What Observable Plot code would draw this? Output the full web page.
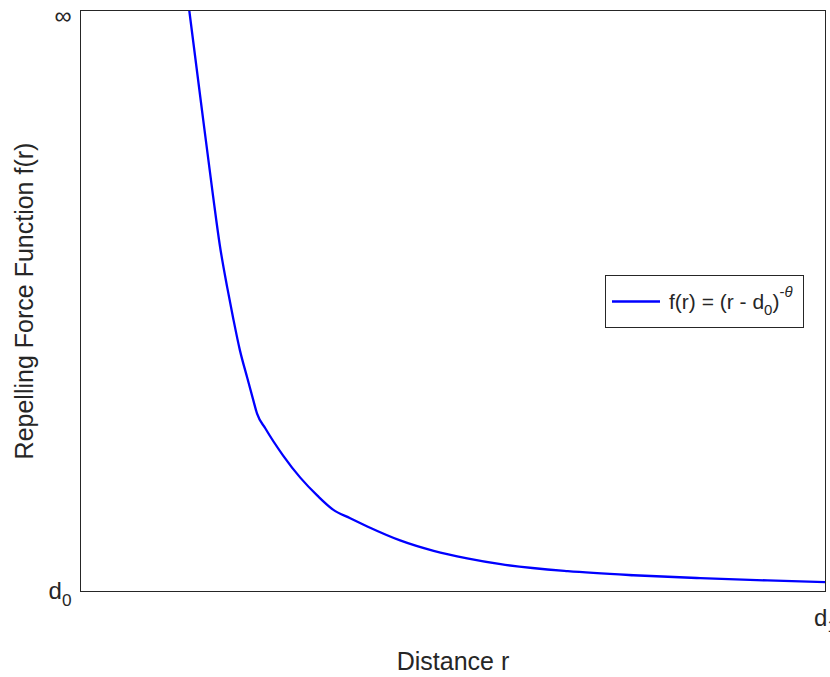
<!DOCTYPE html>
<html>
<head>
<meta charset="utf-8">
<script src="https://cdn.jsdelivr.net/npm/d3@7"></script>
<script src="https://cdn.jsdelivr.net/npm/@observablehq/plot@0.6"></script>
<style>
  html, body { margin: 0; padding: 0; background: #fff; }
  #wrap { position: relative; width: 830px; height: 677px; overflow: hidden; }
  #legend { position: absolute; left: 605px; top: 275px; }
</style>
</head>
<body>
<div id="wrap"></div>
<script>
// Normalised distance between d0 (0) and d1 (1), and the repelling force
// scaled so that the top of the axis stands for infinity.
const r = [0.146, 0.161, 0.178, 0.187, 0.197, 0.205, 0.214, 0.224, 0.232, 0.237,
           0.248, 0.272, 0.295, 0.318, 0.339, 0.362, 0.385, 0.429, 0.474, 0.519,
           0.564, 0.654, 0.742, 0.832, 0.922, 1.000];
const f = [1.000, 0.849, 0.680, 0.596, 0.523, 0.470, 0.415, 0.367, 0.329, 0.306,
           0.281, 0.234, 0.196, 0.165, 0.141, 0.126, 0.112, 0.088, 0.070, 0.057,
           0.047, 0.035, 0.028, 0.023, 0.019, 0.016];

const yTicks = [0, 1];
const yTickLabels = ["d0", "\u221e"];
const xTicks = [1];
const xTickLabels = ["d1"];

const xLabel = "Distance r";
const yLabel = "Repelling Force Function f(r)";
const lineColor = "#0000ff";
const ink = "#262626";
const font = "'Liberation Sans', Arial, Helvetica, sans-serif";

const data = r.map((v, i) => ({r: v, f: f[i]}));

const chart = Plot.plot({
  width: 830,
  height: 677,
  marginLeft: 80,
  marginRight: 5,
  marginTop: 10,
  marginBottom: 86,
  style: {fontFamily: font, fontSize: "24px", color: ink, background: "#fff"},
  x: {domain: [0, 1]},
  y: {domain: [0, 1]},
  marks: [
    Plot.line(data, {x: "r", y: "f", stroke: lineColor, strokeWidth: 2.3,
                     curve: "monotone-x", clip: true}),
    Plot.frame({stroke: ink, strokeWidth: 1}),
    Plot.axisY({
      ticks: yTicks,
      tickFormat: (d) => yTickLabels[yTicks.indexOf(d)],
      tickSize: 0, tickPadding: 9, label: null, fontSize: 24
    }),
    Plot.axisX({
      ticks: xTicks,
      tickFormat: (d) => xTickLabels[xTicks.indexOf(d)],
      tickSize: 0, tickPadding: 17, label: null, fontSize: 24
    }),
    Plot.text([xLabel], {
      frameAnchor: "bottom", textAnchor: "middle", lineAnchor: "middle",
      dy: 70, fontSize: 25, fill: ink
    }),
    Plot.text([yLabel], {
      frameAnchor: "left", textAnchor: "middle", lineAnchor: "middle",
      rotate: -90, dx: -56, fontSize: 25, fill: ink
    })
  ]
});

// Tick labels such as "d0" get their digit set as a subscript.
const NS = "http://www.w3.org/2000/svg";
chart.querySelectorAll("text").forEach((t) => {
  const s = t.textContent;
  const m = /^d(\d)$/.exec(s);
  if (m) {
    t.textContent = "d";
    const sub = document.createElementNS(NS, "tspan");
    sub.setAttribute("dy", "0.38em");
    sub.setAttribute("font-size", "0.72em");
    sub.textContent = m[1];
    t.appendChild(sub);
  } else if (s === "\u221e") {
    t.setAttribute("dy", "6");
  }
});

document.getElementById("wrap").appendChild(chart);

// Legend box with the line sample and the formula of the curve.
const legend = d3.select("#wrap").append("svg")
  .attr("id", "legend")
  .attr("width", 199)
  .attr("height", 53)
  .style("font-family", font);
legend.append("rect")
  .attr("x", 0.5).attr("y", 0.5).attr("width", 198).attr("height", 52)
  .attr("fill", "#fff").attr("stroke", ink);
legend.append("line")
  .attr("x1", 7).attr("x2", 55).attr("y1", 26.5).attr("y2", 26.5)
  .attr("stroke", lineColor).attr("stroke-width", 2.3);
const label = legend.append("text")
  .attr("x", 64).attr("y", 34)
  .attr("font-size", 21).attr("fill", ink);
label.append("tspan").text("f(r) = (r - d");
label.append("tspan").attr("dy", 6).attr("font-size", 15).text("0");
label.append("tspan").attr("dy", -6).text(")");
label.append("tspan").attr("dy", -12).attr("font-size", 15).text("-");
label.append("tspan").attr("font-size", 15).attr("font-style", "italic").text("\u03b8");
</script>
</body>
</html>
